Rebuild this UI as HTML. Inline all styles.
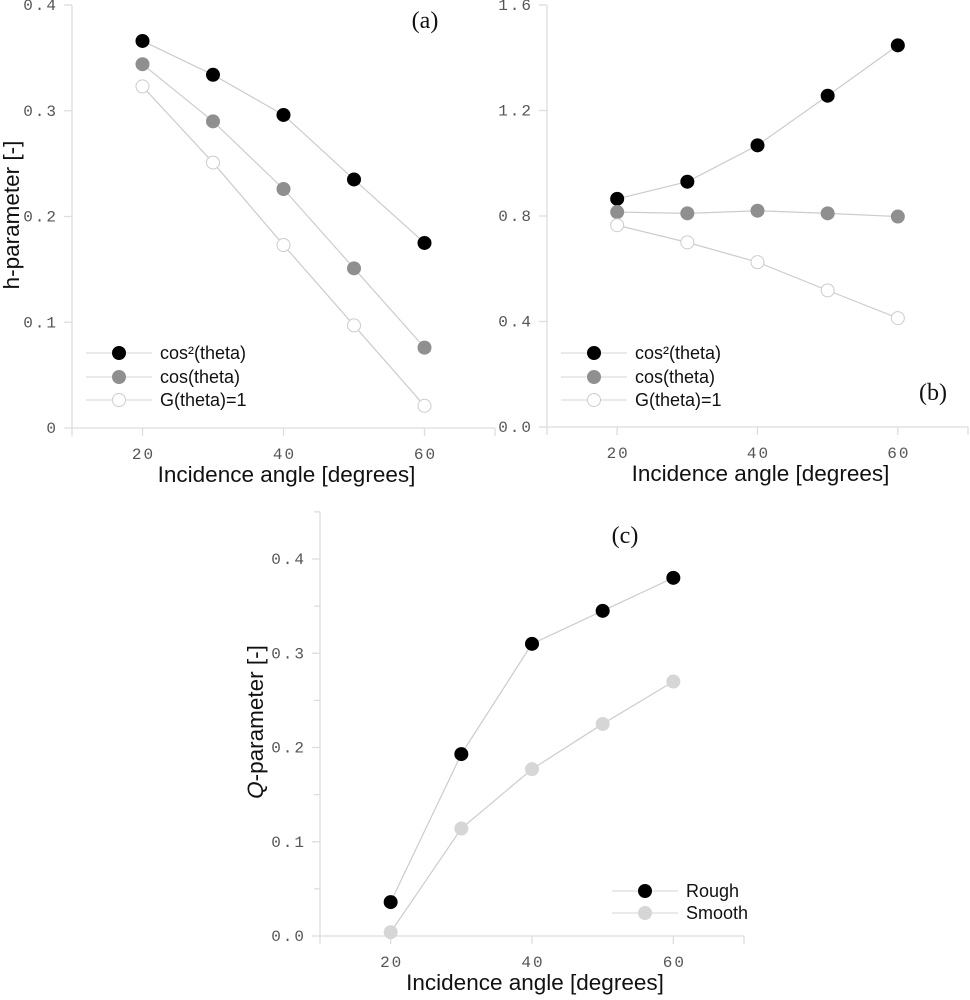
<!DOCTYPE html>
<html><head><meta charset="utf-8"><style>
html,body{margin:0;padding:0;background:#fff;}
svg{display:block;}
.tick{font-family:"Liberation Mono",monospace;font-size:16px;fill:#555;letter-spacing:2px;}
.axt{font-family:"Liberation Sans",sans-serif;font-size:22.5px;fill:#111;}
.leg{font-family:"Liberation Sans",sans-serif;font-size:18px;fill:#111;}
.pl{font-family:"Liberation Serif",serif;font-size:24px;fill:#111;}
</style></head><body>
<svg id="fig" width="970" height="1000" viewBox="0 0 970 1000"></svg>
<script>
const angles=[20,30,40,50,60];
const aCos2=[0.366,0.334,0.296,0.235,0.175];
const aCos=[0.344,0.290,0.226,0.151,0.076];
const aG=[0.323,0.251,0.173,0.097,0.021];
const bCos2=[0.865,0.930,1.068,1.256,1.447];
const bCos=[0.815,0.810,0.820,0.810,0.798];
const bG=[0.765,0.700,0.625,0.518,0.413];
const cRough=[0.036,0.193,0.310,0.345,0.380];
const cSmooth=[0.004,0.114,0.177,0.225,0.270];
const xTicks=[20,40,60];
const aYTicks=["0","0.1","0.2","0.3","0.4"];
const bYTicks=["0.0","0.4","0.8","1.2","1.6"];
const cYTicks=["0.0","0.1","0.2","0.3","0.4"];
const names3=["cos\u00b2(theta)","cos(theta)","G(theta)=1"];
const namesC=["Rough","Smooth"];

const NS="http://www.w3.org/2000/svg";
const svg=document.getElementById('fig');
function mk(tag,attrs,parent,text){const e=document.createElementNS(NS,tag);for(const k in attrs)e.setAttribute(k,attrs[k]);if(text!==undefined)e.textContent=text;(parent||svg).appendChild(e);return e;}

function panel(o){
  const g=mk('g',{});
  
  
  const sx=v=>o.x0+(v-10)/60*(o.x1-o.x0);
  const sy=v=>o.yb-(v-o.ymin)/(o.ymax-o.ymin)*(o.yb-o.yt);
  const ax=mk('line',{x1:o.x0,y1:o.yTop,x2:o.x0,y2:o.yb,stroke:'#ddd','stroke-width':1.3},g);
  
  const bx=mk('line',{x1:o.x0,y1:o.yb,x2:o.x1,y2:o.yb,stroke:'#ddd','stroke-width':1.3},g);
  
  [10,20,40,60,70].forEach(v=>{mk('line',{x1:sx(v),y1:o.yb,x2:sx(v),y2:o.yb+8,stroke:'#ddd','stroke-width':1.3},g);});
  xTicks.forEach(v=>{const t=mk('text',{x:sx(v)+1,y:o.yb+31,'text-anchor':'middle',class:'tick'},g,String(v));
    });
  o.yTicks.forEach(lbl=>{const v=parseFloat(lbl);const y=sy(v);
    mk('line',{x1:o.x0-8,y1:y,x2:o.x0,y2:y,stroke:'#ddd','stroke-width':1.3},g);
    const t=mk('text',{x:o.x0-14,y:y+5,'text-anchor':'end',class:'tick'},g,lbl);
    });
  if(o.minor){o.minor.forEach(v=>mk('line',{x1:o.x0-6,y1:sy(v),x2:o.x0,y2:sy(v),stroke:'#ddd','stroke-width':1.3},g));}
  const xt=mk('text',{x:(o.x0+o.x1)/2+3,y:o.yb+54,'text-anchor':'middle',class:'axt'},g,'Incidence angle [degrees]');
  
  if(o.ylabel){const yt=mk('text',{x:0,y:0,'text-anchor':'middle',class:'axt',transform:`translate(${o.ylx},${o.yly}) rotate(-90)`},g);
    
    o.ylabel(yt);}
  const pl=mk('text',{x:o.plx,y:o.ply,'text-anchor':'middle',class:'pl'},g,o.plabel);
  
  o.series.forEach((s,i)=>{
    const pts=angles.map((a,j)=>sx(a)+','+sy(s.vals[j])).join(' ');
    const l=mk('polyline',{points:pts,fill:'none',stroke:'#ccc','stroke-width':1.2},g);
    
    angles.forEach((a,j)=>{const c=mk('circle',{cx:sx(a),cy:sy(s.vals[j]),r:6.5,fill:s.fill,stroke:s.stroke,'stroke-width':1},g);
      });
    const ly=o.legY[i];
    const le=mk('g',{},g);
    
    mk('line',{x1:o.legX-33,y1:ly,x2:o.legX+33,y2:ly,stroke:'#ddd','stroke-width':1.2},le);
    mk('circle',{cx:o.legX,cy:ly,r:6.5,fill:s.fill,stroke:s.stroke,'stroke-width':1},le);
    mk('text',{x:o.legX+41,y:ly+6,class:'leg'},le,s.name);
  });
}
const s3=(v1,v2,v3)=>[{vals:v1,fill:'#000',stroke:'#000',name:names3[0]},{vals:v2,fill:'#8f8f8f',stroke:'#8f8f8f',name:names3[1]},{vals:v3,fill:'#fff',stroke:'#ccc',name:names3[2]}];
panel({name:'panel-a',x0:72,x1:495,yt:5,yb:428,yTop:5,ymin:0,ymax:0.4,yTicks:aYTicks,
  ylx:19,yly:215,ylabel:t=>{t.textContent='h-parameter [-]';},plx:425,ply:28,plabel:'(a)',
  series:s3(aCos2,aCos,aG),legX:119,legY:[353,377,400]});
panel({name:'panel-b',x0:547,x1:968,yt:5,yb:427,yTop:5,ymin:0,ymax:1.6,yTicks:bYTicks,
  plx:933,ply:400,plabel:'(b)',series:s3(bCos2,bCos,bG),legX:594,legY:[353,377,400]});
panel({name:'panel-c',x0:320,x1:744,yt:559,yb:936,yTop:512,ymin:0,ymax:0.4,yTicks:cYTicks,
  minor:[0.05,0.15,0.25,0.35,0.45],
  ylx:263,yly:722,ylabel:t=>{mk('tspan',{'font-style':'italic'},t,'Q');mk('tspan',{},t,'-parameter [-]');},
  plx:625,ply:543,plabel:'(c)',
  series:[{vals:cRough,fill:'#000',stroke:'#000',name:namesC[0]},{vals:cSmooth,fill:'#d6d6d6',stroke:'#d6d6d6',name:namesC[1]}],
  legX:645,legY:[891,913]});
</script>
</body></html>
